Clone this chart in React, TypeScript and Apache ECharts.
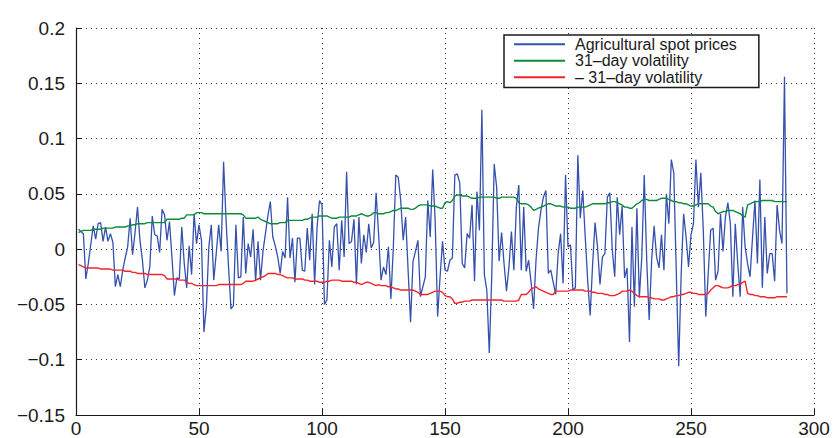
import React, { useEffect, useRef } from "react";
import * as echarts from "echarts";

// Daily returns of agricultural spot prices, observations 1..289
const spotReturns: number[] = [
  0.018, 0.016, 0.014, -0.027, -0.013, 0.004, 0.021, 0.009, 0.023, 0.024,
  0.007, 0.02, 0.007, 0.014, 0.006, -0.034, -0.023, -0.034, -0.019, -0.008,
  0.002, 0.028, -0.005, 0.015, 0.038, 0.008, -0.01, -0.035, -0.028, -0.016,
  0.03, 0.013, 0.012, -0.003, 0.036, 0.031, 0.008, 0.025, -0.007, -0.042,
  -0.026, -0.027, 0.02, -0.013, -0.035, 0.003, -0.023, 0.032, 0.005, 0.022,
  0.008, -0.075, -0.052, 0.002, 0.022, -0.028, -0.004, 0.022, -0.002, 0.079,
  0.026, -0.016, -0.054, -0.051, 0.022, -0.026, -0.025, 0.029, -0.022, 0.005,
  -0.007, 0.018, -0.029, 0.007, -0.028, -0.002, 0.014, 0.03, 0.043, 0.011,
  0.003, -0.007, -0.022, -0.002, -0.008, 0.047, -0.008, 0.01, -0.03, 0.01,
  0.01, -0.019, -0.02, 0.019, -0.01, 0.032, -0.032, 0.02, 0.044, 0.04,
  -0.05, -0.046, 0.008, -0.016, 0.02, 0.023, -0.019, 0.026, -0.007, 0.07,
  0.005, 0.007, 0.027, -0.032, 0.029, -0.013, 0.013, -0.003, 0.023, 0.001,
  0.006, 0.051, 0.014, -0.028, -0.016, -0.023, 0.002, -0.045, 0.002, 0.067,
  0.065, 0.044, 0.008, 0.029, -0.019, -0.066, -0.011, -0.002, 0.008, -0.043,
  -0.034, -0.025, 0.044, 0.011, 0.072, 0.026, -0.061, -0.025, 0.007, -0.019,
  -0.02, -0.01, -0.008, 0.067, 0.068, 0.06, -0.013, -0.017, 0.014, 0.01,
  0.04, -0.029, 0.052, 0.017, 0.126, -0.023, -0.037, -0.094, -0.025, 0.077,
  0.056, -0.011, 0.015, -0.013, -0.038, -0.016, 0.016, -0.019, 0.038, 0.058,
  -0.019, 0.038, -0.02, -0.01, -0.03, -0.054, -0.01, 0.019, 0.035, 0.047,
  0.053, -0.022, -0.019, -0.03, -0.041, -0.004, 0.014, -0.031, 0.067, 0.002,
  0.004, -0.037, -0.035, 0.085, 0.028, 0.053, 0.011, -0.028, -0.06, -0.014,
  0.024, 0.002, -0.032, -0.007, -0.004, 0.047, 0.051, -0.001, -0.025, 0.047,
  0.013, 0.039, -0.026, -0.017, -0.084, 0.02, -0.052, 0.037, -0.044, -0.007,
  0.067, -0.01, -0.064, -0.01, 0.021, -0.007, -0.017, 0.013, -0.019, 0.05,
  0.023, 0.081, 0.069, -0.019, -0.106, -0.023, 0.032, 0.011, -0.016, 0.013,
  0.023, 0.081, 0.038, 0.069, 0.017, -0.061, -0.022, 0.017, 0.019, -0.028,
  -0.02, 0.032, -0.002, 0.029, 0.042, 0.023, -0.043, 0.023, -0.013, -0.043,
  0.038, 0.002, -0.013, -0.025, 0.01, 0.044, -0.013, 0.063, -0.035, 0.029,
  -0.022, -0.004, -0.004, -0.029, 0.04, 0.017, 0.005, 0.156, -0.04,
];

// Upper band: 31-day rolling volatility
const volUpper: number[] = [
  0.015, 0.016, 0.017, 0.017,
  0.017, 0.017, 0.018, 0.018, 0.018, 0.018, 0.019, 0.019,
  0.019, 0.019, 0.019, 0.02, 0.02, 0.02, 0.02, 0.02,
  0.021, 0.021, 0.022, 0.022, 0.023, 0.023, 0.023, 0.023,
  0.024, 0.024, 0.024, 0.024, 0.024, 0.024, 0.024, 0.024,
  0.027, 0.027, 0.027, 0.027, 0.027, 0.027, 0.028, 0.028,
  0.031, 0.031, 0.031, 0.031, 0.033, 0.033, 0.033, 0.032,
  0.032, 0.032, 0.032, 0.032, 0.032, 0.032, 0.032, 0.032,
  0.032, 0.032, 0.032, 0.032, 0.032, 0.032, 0.032, 0.031,
  0.028, 0.028, 0.028, 0.028, 0.028, 0.029, 0.027, 0.026,
  0.025, 0.024, 0.023, 0.023, 0.023, 0.023, 0.024, 0.024,
  0.024, 0.026, 0.026, 0.026, 0.026, 0.026, 0.026, 0.026,
  0.027, 0.027, 0.028, 0.029, 0.029, 0.029, 0.03, 0.03,
  0.03, 0.03, 0.029, 0.028, 0.028, 0.028, 0.029, 0.029,
  0.029, 0.029, 0.029, 0.03, 0.03, 0.03, 0.031, 0.032,
  0.031, 0.03, 0.03, 0.031, 0.033, 0.033, 0.032, 0.032,
  0.032, 0.033, 0.033, 0.034, 0.035, 0.035, 0.036, 0.037,
  0.037, 0.037, 0.037, 0.036, 0.036, 0.037, 0.039, 0.04,
  0.04, 0.04, 0.04, 0.039, 0.039, 0.039, 0.038, 0.037,
  0.037, 0.042, 0.043, 0.042, 0.044, 0.048, 0.049, 0.049,
  0.048, 0.048, 0.048, 0.047, 0.046, 0.046, 0.046, 0.047,
  0.047, 0.047, 0.047, 0.047, 0.047, 0.047, 0.046, 0.046,
  0.047, 0.047, 0.047, 0.047, 0.047, 0.047, 0.046, 0.042,
  0.041, 0.041, 0.041, 0.04, 0.038, 0.035, 0.036, 0.037,
  0.038, 0.039, 0.04, 0.041, 0.041, 0.04, 0.039, 0.039,
  0.039, 0.038, 0.038, 0.038, 0.037, 0.037, 0.037, 0.038,
  0.038, 0.038, 0.038, 0.039, 0.04, 0.041, 0.041, 0.041,
  0.041, 0.041, 0.041, 0.042, 0.042, 0.043, 0.043, 0.042,
  0.041, 0.04, 0.038, 0.038, 0.037, 0.037, 0.039, 0.041,
  0.042, 0.044, 0.045, 0.045, 0.044, 0.044, 0.044, 0.044,
  0.045, 0.046, 0.046, 0.046, 0.045, 0.044, 0.043, 0.043,
  0.042, 0.042, 0.041, 0.041, 0.04, 0.039, 0.039, 0.04,
  0.041, 0.041, 0.041, 0.041, 0.041, 0.039, 0.038, 0.034,
  0.032, 0.033, 0.034, 0.034, 0.035, 0.035, 0.035, 0.034,
  0.033, 0.032, 0.03, 0.029, 0.04, 0.041, 0.042, 0.043,
  0.043, 0.043, 0.044, 0.044, 0.044, 0.044, 0.044, 0.043,
  0.043, 0.043, 0.043, 0.043, 0.043,
];

// Lower band: negative 31-day rolling volatility
const volLower: number[] = [
  -0.014, -0.015, -0.016, -0.017,
  -0.017, -0.017, -0.017, -0.017, -0.017, -0.018, -0.018, -0.018,
  -0.018, -0.018, -0.019, -0.019, -0.019, -0.019, -0.019, -0.02,
  -0.02, -0.02, -0.021, -0.021, -0.022, -0.022, -0.022, -0.022,
  -0.023, -0.023, -0.023, -0.023, -0.023, -0.023, -0.023, -0.024,
  -0.027, -0.027, -0.027, -0.027, -0.027, -0.028, -0.028, -0.028,
  -0.03, -0.031, -0.031, -0.032, -0.033, -0.033, -0.033, -0.033,
  -0.033, -0.033, -0.033, -0.033, -0.033, -0.032, -0.032, -0.032,
  -0.032, -0.032, -0.032, -0.032, -0.032, -0.032, -0.032, -0.031,
  -0.029, -0.029, -0.029, -0.029, -0.028, -0.027, -0.026, -0.025,
  -0.024, -0.022, -0.022, -0.022, -0.022, -0.023, -0.023, -0.024,
  -0.025, -0.026, -0.026, -0.026, -0.027, -0.027, -0.027, -0.027,
  -0.028, -0.028, -0.029, -0.029, -0.029, -0.029, -0.03, -0.03,
  -0.03, -0.029, -0.029, -0.028, -0.028, -0.028, -0.028, -0.029,
  -0.029, -0.029, -0.029, -0.029, -0.03, -0.03, -0.031, -0.032,
  -0.031, -0.03, -0.03, -0.031, -0.032, -0.033, -0.032, -0.033,
  -0.033, -0.033, -0.034, -0.034, -0.035, -0.036, -0.036, -0.037,
  -0.037, -0.037, -0.037, -0.037, -0.037, -0.038, -0.039, -0.041,
  -0.041, -0.041, -0.041, -0.04, -0.039, -0.038, -0.038, -0.038,
  -0.039, -0.042, -0.043, -0.043, -0.045, -0.049, -0.049, -0.048,
  -0.048, -0.047, -0.047, -0.047, -0.046, -0.046, -0.046, -0.046,
  -0.046, -0.046, -0.046, -0.046, -0.046, -0.046, -0.046, -0.046,
  -0.046, -0.047, -0.047, -0.047, -0.047, -0.047, -0.047, -0.046,
  -0.041, -0.041, -0.041, -0.039, -0.036, -0.035, -0.034, -0.036,
  -0.037, -0.038, -0.039, -0.04, -0.041, -0.041, -0.038, -0.038,
  -0.038, -0.038, -0.038, -0.038, -0.037, -0.037, -0.037, -0.037,
  -0.037, -0.037, -0.038, -0.038, -0.038, -0.039, -0.039, -0.04,
  -0.04, -0.04, -0.041, -0.041, -0.042, -0.042, -0.042, -0.041,
  -0.04, -0.038, -0.038, -0.038, -0.037, -0.038, -0.04, -0.042,
  -0.043, -0.043, -0.043, -0.043, -0.044, -0.044, -0.045, -0.045,
  -0.045, -0.046, -0.046, -0.045, -0.044, -0.043, -0.043, -0.042,
  -0.042, -0.041, -0.041, -0.04, -0.039, -0.039, -0.04, -0.04,
  -0.041, -0.041, -0.041, -0.041, -0.04, -0.037, -0.035, -0.033,
  -0.033, -0.034, -0.035, -0.035, -0.035, -0.034, -0.033, -0.033,
  -0.032, -0.032, -0.03, -0.029, -0.04, -0.041, -0.041, -0.042,
  -0.042, -0.043, -0.043, -0.043, -0.044, -0.044, -0.044, -0.044,
  -0.043, -0.043, -0.043, -0.043, -0.043,
];

const seriesNames = [
  "Agricultural spot prices",
  "31–day volatility",
  "– 31–day volatility",
];

const FONT = '"Liberation Sans", Arial, Helvetica, sans-serif';
const INK = "#1a1a1a";

const toPairs = (vals: number[]) => vals.map((v, i) => [i + 1, v]);

const tickText = (v: number) => {
  const r = Math.round(v * 100) / 100;
  const s = String(Math.abs(r) < 1e-9 ? 0 : r);
  return s.replace("-", "\u2212");
};

export default function App() {
  const ref = useRef<HTMLDivElement>(null);

  useEffect(() => {
    if (!ref.current) return;
    const chart = echarts.init(ref.current, undefined, { renderer: "svg" });
    const gridLine = { show: true, lineStyle: { color: "#333", width: 1, type: [1, 4] as any } };
    chart.setOption({
      animation: false,
      backgroundColor: "#ffffff",
      grid: { left: 76, right: 19, top: 28, bottom: 23, containLabel: false },
      xAxis: {
        type: "value",
        min: 0,
        max: 300,
        interval: 50,
        axisLine: { show: true, onZero: false, lineStyle: { color: INK, width: 1.2 } },
        axisTick: { show: true, inside: true, length: 6, lineStyle: { color: INK } },
        axisLabel: { margin: 4, fontFamily: FONT, fontSize: 19, color: INK },
        splitLine: gridLine,
      },
      yAxis: {
        type: "value",
        min: -0.15,
        max: 0.2,
        interval: 0.05,
        axisLine: { show: true, onZero: false, lineStyle: { color: INK, width: 1.2 } },
        axisTick: { show: true, inside: true, length: 6, lineStyle: { color: INK } },
        axisLabel: { margin: 11, fontFamily: FONT, fontSize: 19, color: INK, formatter: tickText },
        splitLine: gridLine,
      },
      legend: {
        orient: "vertical",
        left: 504,
        top: 35,
        padding: [1, 22, 2, 10],
        itemGap: 0,
        itemWidth: 51,
        itemHeight: 2,
        icon: "rect",
        backgroundColor: "#ffffff",
        borderColor: INK,
        borderWidth: 1.5,
        borderRadius: 0,
        selectedMode: false,
        data: seriesNames,
        textStyle: { fontFamily: FONT, fontSize: 16, color: INK, lineHeight: 16.5, padding: [0, 0, 0, 5] },
      },
      series: [
        {
          name: seriesNames[0],
          type: "line",
          data: toPairs(spotReturns),
          showSymbol: false,
          symbol: "none",
          lineStyle: { color: "#3551ad", width: 1.3 },
          itemStyle: { color: "#3551ad" },
          z: 2,
        },
        {
          name: seriesNames[1],
          type: "line",
          data: toPairs(volUpper),
          showSymbol: false,
          symbol: "none",
          lineStyle: { color: "#0d8a3c", width: 1.4 },
          itemStyle: { color: "#0d8a3c" },
          z: 3,
        },
        {
          name: seriesNames[2],
          type: "line",
          data: toPairs(volLower),
          showSymbol: false,
          symbol: "none",
          lineStyle: { color: "#f0262c", width: 1.4 },
          itemStyle: { color: "#f0262c" },
          z: 3,
        },
      ],
    });
    return () => chart.dispose();
  }, []);

  return (
    <div
      ref={ref}
      style={{ position: "fixed", left: 0, top: 0, width: 833, height: 438 }}
    />
  );
}
